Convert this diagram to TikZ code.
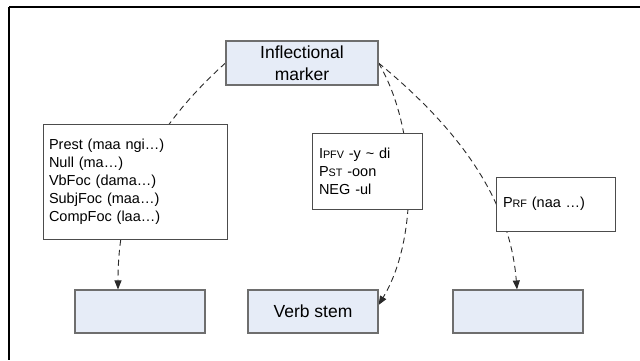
\documentclass[tikz,border=0pt]{standalone}
\usepackage{fontspec}
\setmainfont{Liberation Sans}
\usetikzlibrary{arrows.meta,shadows,calc}
\pgfdeclarelayer{bg}
\pgfdeclarelayer{back}
\pgfsetlayers{back,bg,main}
\definecolor{boxblue}{HTML}{E6ECF7}
\definecolor{boxedge}{HTML}{6E6E6E}
\definecolor{linkcol}{HTML}{2A2A2A}
\newcommand\fsc[1]{{\fontsize{10.8}{18}\selectfont #1}}
\begin{document}
\begin{tikzpicture}[x=1pt,y=-1pt,
  bluebox/.style={draw=boxedge, line width=1.1pt, fill=boxblue,
    minimum width=130pt, minimum height=43pt, inner sep=0pt,
    font=\fontsize{17.5}{22}\selectfont, align=center,
    drop shadow={shadow xshift=1pt, shadow yshift=-1pt, fill=black!50, opacity=1}},
  notebox/.style={draw=black!70, line width=0.9pt, fill=white,
    inner xsep=6pt, inner ysep=0pt, align=left,
    font=\fontsize{14.5}{18}\selectfont,
    drop shadow={shadow xshift=0.8pt, shadow yshift=-0.8pt, fill=black!35, opacity=1}},
  link/.style={draw=linkcol, line width=0.9pt, dash pattern=on 6pt off 4pt,
    -{Triangle[length=9pt,width=7pt]}}]
\useasboundingbox (0,0) rectangle (640,360);
\begin{pgfonlayer}{back}
\fill[white] (0,0) rectangle (640,360);
\draw[line width=1.6pt] (9,7) -- (640,7) (9,7) -- (9,360);
\end{pgfonlayer}

% nodes
\node[bluebox, minimum width=152pt, minimum height=44pt] (im) at (302,63) {Inflectional\\marker};
\node[bluebox] (b1) at (140,311.5) {};
\node[bluebox] (vs) at (313,311.5) {Verb stem};
\node[bluebox] (b3) at (518,311.5) {};

\node[notebox, text width=172pt, minimum height=115pt] (pr) at (135,181.5)
  {Prest (maa ngi…)\\Null (ma…)\\VbFoc (dama…)\\SubjFoc (maa…)\\CompFoc (laa…)};
\node[notebox, inner xsep=7pt, text width=96pt, minimum height=76pt] (md) at (367,171)
  {I\fsc{PFV} -y \textasciitilde{} di\\P\fsc{ST} -oon\\NEG -ul};
\node[notebox, inner xsep=7pt, text width=105pt, minimum height=54pt] (pf) at (555.5,204)
  {P\fsc{RF} (naa …)};

% connectors behind the boxes
\begin{pgfonlayer}{bg}
\draw[link] (im.west) .. controls (140,140) and (118,210) .. ([xshift=-22pt]b1.north);
\draw[link] (im.east) .. controls (418,130) and (418,240) .. ([yshift=6.5pt]vs.east);
\draw[link] (im.east) .. controls (460,130) and (510,200) .. ([xshift=-1pt]b3.north);
\end{pgfonlayer}
\end{tikzpicture}
\end{document}
